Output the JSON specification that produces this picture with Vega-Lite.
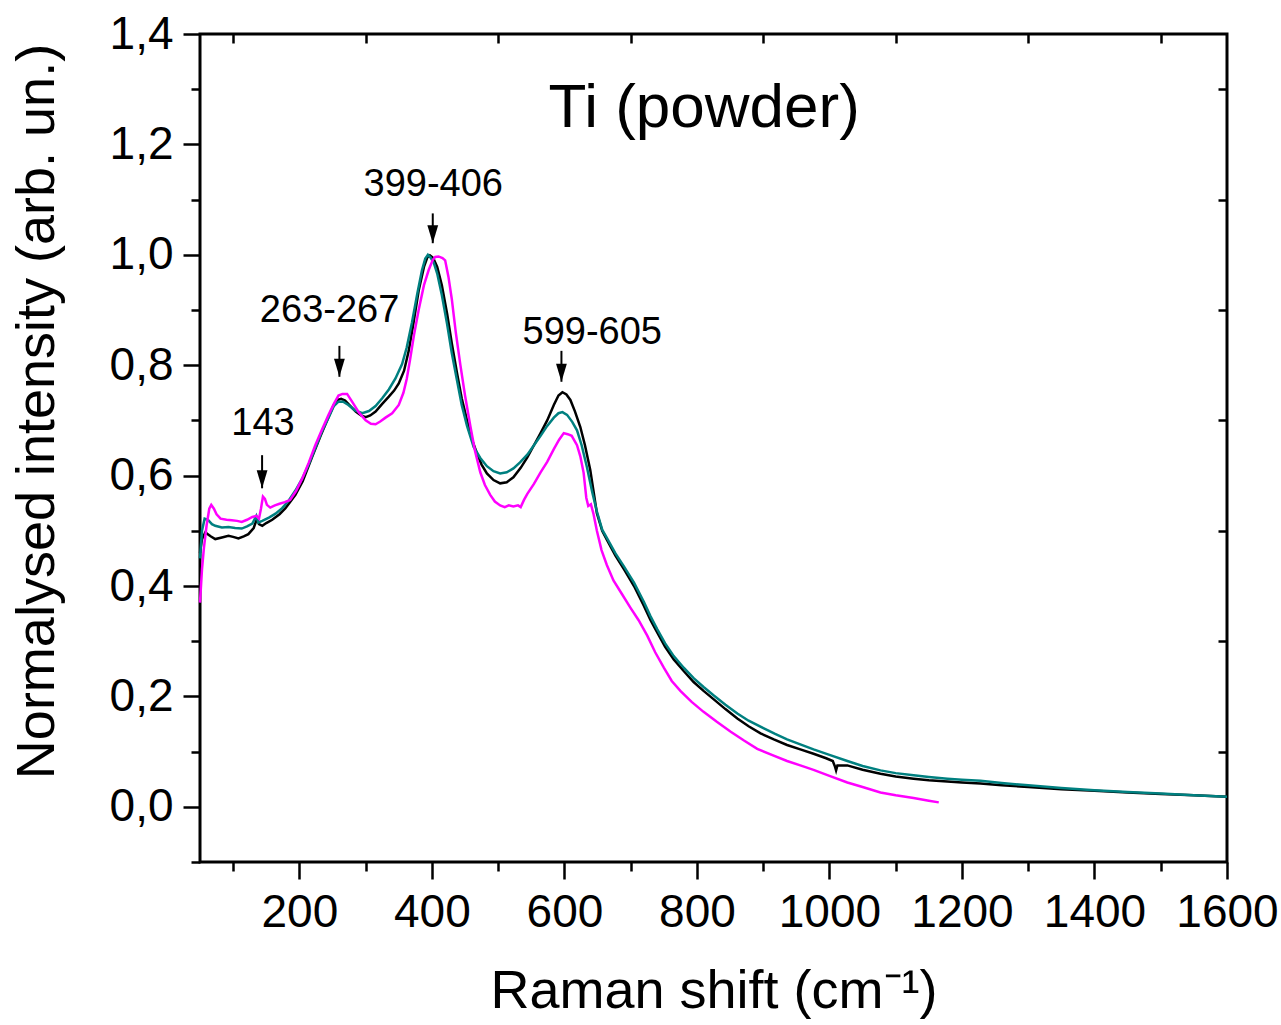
{
  "$schema": "https://vega.github.io/schema/vega-lite/v6.json",
  "autosize": "none",
  "width": 1027,
  "height": 828,
  "padding": {"left": 200, "top": 34, "right": 54, "bottom": 163},
  "background": "white",
  "config": {"view": {"stroke": "black", "strokeWidth": 3}},
  "datasets": {
    "black": [
      {"x":50,"y":0.46},{"x":53,"y":0.485},{"x":58,"y":0.497},{"x":66,"y":0.49},{"x":73,"y":0.485},{"x":83,"y":0.488},{"x":93,"y":0.491},{"x":100,"y":0.489},{"x":108,"y":0.486},{"x":116,"y":0.49},{"x":123,"y":0.494},{"x":131,"y":0.505},{"x":136,"y":0.522},{"x":139,"y":0.512},{"x":144,"y":0.509},{"x":150,"y":0.514},{"x":159,"y":0.52},{"x":170,"y":0.53},{"x":179,"y":0.541},{"x":186,"y":0.552},{"x":194,"y":0.565},{"x":205,"y":0.59},{"x":219,"y":0.633},{"x":232,"y":0.672},{"x":244,"y":0.706},{"x":252,"y":0.728},{"x":257,"y":0.737},{"x":263,"y":0.739},{"x":269,"y":0.736},{"x":277,"y":0.726},{"x":285,"y":0.716},{"x":293,"y":0.709},{"x":300,"y":0.706},{"x":307,"y":0.709},{"x":315,"y":0.716},{"x":325,"y":0.73},{"x":335,"y":0.743},{"x":343,"y":0.754},{"x":350,"y":0.767},{"x":358,"y":0.79},{"x":365,"y":0.826},{"x":372,"y":0.875},{"x":380,"y":0.935},{"x":388,"y":0.978},{"x":393,"y":0.995},{"x":397,"y":0.999},{"x":402,"y":0.994},{"x":408,"y":0.978},{"x":415,"y":0.945},{"x":423,"y":0.893},{"x":430,"y":0.84},{"x":438,"y":0.785},{"x":445,"y":0.74},{"x":453,"y":0.7},{"x":460,"y":0.667},{"x":468,"y":0.64},{"x":475,"y":0.62},{"x":483,"y":0.604},{"x":493,"y":0.592},{"x":503,"y":0.586},{"x":513,"y":0.588},{"x":523,"y":0.597},{"x":534,"y":0.614},{"x":544,"y":0.633},{"x":554,"y":0.655},{"x":564,"y":0.677},{"x":574,"y":0.7},{"x":584,"y":0.728},{"x":591,"y":0.745},{"x":597,"y":0.751},{"x":603,"y":0.747},{"x":609,"y":0.737},{"x":616,"y":0.716},{"x":624,"y":0.688},{"x":631,"y":0.655},{"x":639,"y":0.61},{"x":649,"y":0.532},{"x":657,"y":0.5},{"x":664,"y":0.484},{"x":677,"y":0.455},{"x":690,"y":0.43},{"x":705,"y":0.4},{"x":720,"y":0.364},{"x":730,"y":0.338},{"x":740,"y":0.316},{"x":752,"y":0.29},{"x":765,"y":0.267},{"x":780,"y":0.246},{"x":795,"y":0.226},{"x":810,"y":0.21},{"x":825,"y":0.195},{"x":843,"y":0.177},{"x":861,"y":0.16},{"x":878,"y":0.146},{"x":896,"y":0.133},{"x":916,"y":0.122},{"x":936,"y":0.112},{"x":956,"y":0.104},{"x":976,"y":0.096},{"x":995,"y":0.088},{"x":1005,"y":0.083},{"x":1008,"y":0.074},{"x":1010,"y":0.066},{"x":1012,"y":0.075},{"x":1027,"y":0.075},{"x":1050,"y":0.067},{"x":1077,"y":0.06},{"x":1100,"y":0.055},{"x":1127,"y":0.051},{"x":1150,"y":0.048},{"x":1178,"y":0.046},{"x":1200,"y":0.044},{"x":1228,"y":0.042},{"x":1260,"y":0.039},{"x":1300,"y":0.036},{"x":1350,"y":0.032},{"x":1400,"y":0.029},{"x":1450,"y":0.026},{"x":1500,"y":0.023},{"x":1550,"y":0.021},{"x":1600,"y":0.018}
    ],
    "teal": [
      {"x":50,"y":0.45},{"x":53,"y":0.5},{"x":57,"y":0.522},{"x":62,"y":0.52},{"x":68,"y":0.512},{"x":73,"y":0.509},{"x":83,"y":0.506},{"x":93,"y":0.507},{"x":103,"y":0.505},{"x":113,"y":0.504},{"x":121,"y":0.508},{"x":129,"y":0.513},{"x":135,"y":0.527},{"x":138,"y":0.515},{"x":144,"y":0.518},{"x":154,"y":0.524},{"x":164,"y":0.531},{"x":174,"y":0.541},{"x":184,"y":0.555},{"x":194,"y":0.573},{"x":204,"y":0.594},{"x":214,"y":0.62},{"x":224,"y":0.65},{"x":234,"y":0.68},{"x":244,"y":0.705},{"x":252,"y":0.726},{"x":259,"y":0.734},{"x":266,"y":0.734},{"x":274,"y":0.728},{"x":284,"y":0.718},{"x":295,"y":0.713},{"x":305,"y":0.717},{"x":315,"y":0.726},{"x":325,"y":0.74},{"x":335,"y":0.756},{"x":345,"y":0.776},{"x":355,"y":0.802},{"x":362,"y":0.832},{"x":370,"y":0.878},{"x":378,"y":0.93},{"x":385,"y":0.972},{"x":390,"y":0.993},{"x":394,"y":1.0},{"x":398,"y":0.995},{"x":403,"y":0.985},{"x":408,"y":0.966},{"x":415,"y":0.927},{"x":423,"y":0.874},{"x":430,"y":0.822},{"x":438,"y":0.772},{"x":445,"y":0.728},{"x":453,"y":0.69},{"x":463,"y":0.652},{"x":473,"y":0.632},{"x":483,"y":0.617},{"x":493,"y":0.608},{"x":503,"y":0.604},{"x":513,"y":0.606},{"x":523,"y":0.613},{"x":533,"y":0.624},{"x":544,"y":0.638},{"x":554,"y":0.655},{"x":564,"y":0.672},{"x":574,"y":0.69},{"x":584,"y":0.705},{"x":591,"y":0.713},{"x":597,"y":0.715},{"x":604,"y":0.71},{"x":612,"y":0.697},{"x":619,"y":0.682},{"x":626,"y":0.655},{"x":634,"y":0.615},{"x":642,"y":0.57},{"x":649,"y":0.535},{"x":657,"y":0.502},{"x":664,"y":0.487},{"x":677,"y":0.459},{"x":690,"y":0.435},{"x":705,"y":0.406},{"x":720,"y":0.371},{"x":730,"y":0.345},{"x":740,"y":0.322},{"x":752,"y":0.296},{"x":765,"y":0.273},{"x":780,"y":0.252},{"x":795,"y":0.233},{"x":810,"y":0.217},{"x":825,"y":0.202},{"x":843,"y":0.185},{"x":861,"y":0.169},{"x":878,"y":0.156},{"x":901,"y":0.142},{"x":918,"y":0.132},{"x":936,"y":0.122},{"x":956,"y":0.113},{"x":976,"y":0.104},{"x":1000,"y":0.094},{"x":1027,"y":0.083},{"x":1050,"y":0.074},{"x":1077,"y":0.066},{"x":1100,"y":0.061},{"x":1127,"y":0.057},{"x":1150,"y":0.054},{"x":1178,"y":0.051},{"x":1200,"y":0.049},{"x":1228,"y":0.047},{"x":1260,"y":0.043},{"x":1300,"y":0.039},{"x":1350,"y":0.034},{"x":1400,"y":0.03},{"x":1450,"y":0.027},{"x":1500,"y":0.024},{"x":1550,"y":0.021},{"x":1600,"y":0.018}
    ],
    "magenta": [
      {"x":50,"y":0.37},{"x":53,"y":0.43},{"x":56,"y":0.47},{"x":60,"y":0.51},{"x":64,"y":0.54},{"x":67,"y":0.547},{"x":71,"y":0.54},{"x":75,"y":0.53},{"x":81,"y":0.522},{"x":90,"y":0.52},{"x":98,"y":0.519},{"x":106,"y":0.518},{"x":113,"y":0.516},{"x":121,"y":0.52},{"x":129,"y":0.525},{"x":135,"y":0.527},{"x":139,"y":0.522},{"x":142,"y":0.54},{"x":145,"y":0.562},{"x":148,"y":0.558},{"x":151,"y":0.547},{"x":156,"y":0.542},{"x":163,"y":0.546},{"x":170,"y":0.549},{"x":178,"y":0.552},{"x":186,"y":0.556},{"x":195,"y":0.572},{"x":204,"y":0.594},{"x":214,"y":0.623},{"x":224,"y":0.655},{"x":234,"y":0.683},{"x":244,"y":0.71},{"x":252,"y":0.73},{"x":259,"y":0.745},{"x":265,"y":0.748},{"x":272,"y":0.748},{"x":280,"y":0.733},{"x":290,"y":0.714},{"x":300,"y":0.7},{"x":308,"y":0.694},{"x":315,"y":0.693},{"x":322,"y":0.698},{"x":330,"y":0.705},{"x":340,"y":0.713},{"x":350,"y":0.728},{"x":357,"y":0.75},{"x":362,"y":0.775},{"x":367,"y":0.81},{"x":373,"y":0.855},{"x":380,"y":0.9},{"x":388,"y":0.945},{"x":395,"y":0.972},{"x":401,"y":0.99},{"x":405,"y":0.996},{"x":410,"y":0.997},{"x":416,"y":0.994},{"x":420,"y":0.99},{"x":425,"y":0.96},{"x":430,"y":0.92},{"x":436,"y":0.86},{"x":443,"y":0.8},{"x":450,"y":0.745},{"x":458,"y":0.69},{"x":465,"y":0.645},{"x":473,"y":0.606},{"x":480,"y":0.583},{"x":488,"y":0.565},{"x":495,"y":0.553},{"x":503,"y":0.546},{"x":510,"y":0.543},{"x":516,"y":0.546},{"x":523,"y":0.544},{"x":530,"y":0.546},{"x":534,"y":0.543},{"x":539,"y":0.556},{"x":544,"y":0.567},{"x":554,"y":0.585},{"x":564,"y":0.606},{"x":574,"y":0.625},{"x":584,"y":0.648},{"x":592,"y":0.665},{"x":599,"y":0.677},{"x":605,"y":0.675},{"x":611,"y":0.672},{"x":619,"y":0.655},{"x":624,"y":0.635},{"x":629,"y":0.605},{"x":633,"y":0.56},{"x":636,"y":0.545},{"x":640,"y":0.548},{"x":644,"y":0.53},{"x":649,"y":0.5},{"x":656,"y":0.465},{"x":664,"y":0.438},{"x":674,"y":0.41},{"x":687,"y":0.385},{"x":700,"y":0.36},{"x":712,"y":0.338},{"x":725,"y":0.31},{"x":737,"y":0.28},{"x":750,"y":0.252},{"x":762,"y":0.228},{"x":775,"y":0.21},{"x":792,"y":0.19},{"x":810,"y":0.172},{"x":830,"y":0.154},{"x":851,"y":0.136},{"x":871,"y":0.12},{"x":891,"y":0.105},{"x":913,"y":0.094},{"x":936,"y":0.083},{"x":956,"y":0.075},{"x":976,"y":0.067},{"x":1000,"y":0.056},{"x":1027,"y":0.044},{"x":1050,"y":0.036},{"x":1077,"y":0.026},{"x":1100,"y":0.021},{"x":1127,"y":0.016},{"x":1150,"y":0.011},{"x":1165,"y":0.008}
    ],
    "arrows": [
      {"x":143.7,"top":0.637,"tip":0.577},
      {"x":260.4,"top":0.835,"tip":0.779},
      {"x":401.3,"top":1.075,"tip":1.021},
      {"x":595.5,"top":0.826,"tip":0.770}
    ],
    "labels": [
      {"x":145,"y":0.674,"t":"143"},
      {"x":245.6,"y":0.879,"t":"263-267"},
      {"x":402,"y":1.1065,"t":"399-406"},
      {"x":642,"y":0.838,"t":"599-605"}
    ],
    "title": [
      {"x":811,"y":1.2315,"t":"Ti (powder)"}
    ]
  },
  "resolve": {"axis": {"x": "independent", "y": "independent"}},
  "layer": [
    {
      "data": {"name": "black"},
      "mark": {"type": "line", "color": "#000000", "strokeWidth": 2.5},
      "encoding": {
        "x": {"field": "x", "type": "quantitative",
          "scale": {"domain": [50, 1600], "nice": false, "zero": false},
          "axis": {
            "orient": "bottom",
            "values": [100,200,300,400,500,600,700,800,900,1000,1100,1200,1300,1400,1500,1600],
            "format": "d",
            "tickSize": {"condition": {"test": "datum.value % 200 === 0", "value": 17}, "value": 9},
            "labelExpr": "datum.value % 200 === 0 ? datum.label : ''",
            "labelFont": "Liberation Sans", "labelFontSize": 46, "labelColor": "black",
            "labelPadding": 11, "labelFlush": false, "labelOverlap": false,
            "tickColor": "black", "tickWidth": 2.5, "domain": false, "grid": false,
            "title": "Raman shift (cm⁻¹)", "titleFont": "Liberation Sans", "titleFontSize": 54,
            "titleFontWeight": "normal", "titleColor": "black",
            "titleX": 513.5, "titleY": 145, "titleAlign": "center", "titleBaseline": "alphabetic"
          }},
        "y": {"field": "y", "type": "quantitative",
          "scale": {"domain": [-0.1, 1.4], "nice": false, "zero": false},
          "axis": {
            "orient": "left",
            "values": [-0.1,0,0.1,0.2,0.3,0.4,0.5,0.6,0.7,0.8,0.9,1.0,1.1,1.2,1.3,1.4],
            "tickSize": {"condition": {"test": "round(datum.value*10) % 2 === 0", "value": 17}, "value": 9},
            "labelExpr": "round(datum.value*10) % 2 === 0 ? replace(format(datum.value, '.1f'), '.', ',') : ''",
            "labelFont": "Liberation Sans", "labelFontSize": 46, "labelColor": "black",
            "labelPadding": 10, "labelFlush": false, "labelOverlap": false,
            "tickColor": "black", "tickWidth": 2.5, "domain": false, "grid": false,
            "title": "Normalysed intensity (arb. un.)", "titleFont": "Liberation Sans", "titleFontSize": 54,
            "titleFontWeight": "normal", "titleColor": "black",
            "titleAngle": 270, "titleX": -147, "titleY": 377, "titleAlign": "center", "titleBaseline": "alphabetic"
          }}
      }
    },
    {
      "data": {"name": "teal"},
      "mark": {"type": "line", "color": "#008080", "strokeWidth": 2.5},
      "encoding": {
        "x": {"field": "x", "type": "quantitative",
          "axis": {"orient": "top", "values": [100,300,500,700,900,1100,1300,1500],
            "tickSize": -9, "tickColor": "black", "tickWidth": 2.5, "labels": false,
            "domain": false, "grid": false, "title": null}},
        "y": {"field": "y", "type": "quantitative",
          "axis": {"orient": "right", "values": [0.1,0.3,0.5,0.7,0.9,1.1,1.3],
            "tickSize": -9, "tickColor": "black", "tickWidth": 2.5, "labels": false,
            "domain": false, "grid": false, "title": null}}
      }
    },
    {
      "data": {"name": "magenta"},
      "mark": {"type": "line", "color": "#ff00ff", "strokeWidth": 2.5},
      "encoding": {
        "x": {"field": "x", "type": "quantitative", "axis": null},
        "y": {"field": "y", "type": "quantitative", "axis": null}
      }
    },
    {
      "data": {"name": "arrows"},
      "mark": {"type": "rule", "color": "black", "strokeWidth": 2},
      "encoding": {
        "x": {"field": "x", "type": "quantitative", "axis": null},
        "y": {"field": "top", "type": "quantitative", "axis": null},
        "y2": {"field": "tip"}
      }
    },
    {
      "data": {"name": "arrows"},
      "mark": {"type": "point", "shape": "M-0.3,-1L0.3,-1L0,0Z", "size": 1296, "filled": true, "color": "black", "opacity": 1, "strokeWidth": 0},
      "encoding": {
        "x": {"field": "x", "type": "quantitative", "axis": null},
        "y": {"field": "tip", "type": "quantitative", "axis": null}
      }
    },
    {
      "data": {"name": "labels"},
      "mark": {"type": "text", "font": "Liberation Sans", "fontSize": 38, "color": "black", "align": "center", "baseline": "alphabetic"},
      "encoding": {
        "x": {"field": "x", "type": "quantitative", "axis": null},
        "y": {"field": "y", "type": "quantitative", "axis": null},
        "text": {"field": "t"}
      }
    },
    {
      "data": {"name": "title"},
      "mark": {"type": "text", "font": "Liberation Sans", "fontSize": 62, "color": "black", "align": "center", "baseline": "alphabetic"},
      "encoding": {
        "x": {"field": "x", "type": "quantitative", "axis": null},
        "y": {"field": "y", "type": "quantitative", "axis": null},
        "text": {"field": "t"}
      }
    }
  ]
}
